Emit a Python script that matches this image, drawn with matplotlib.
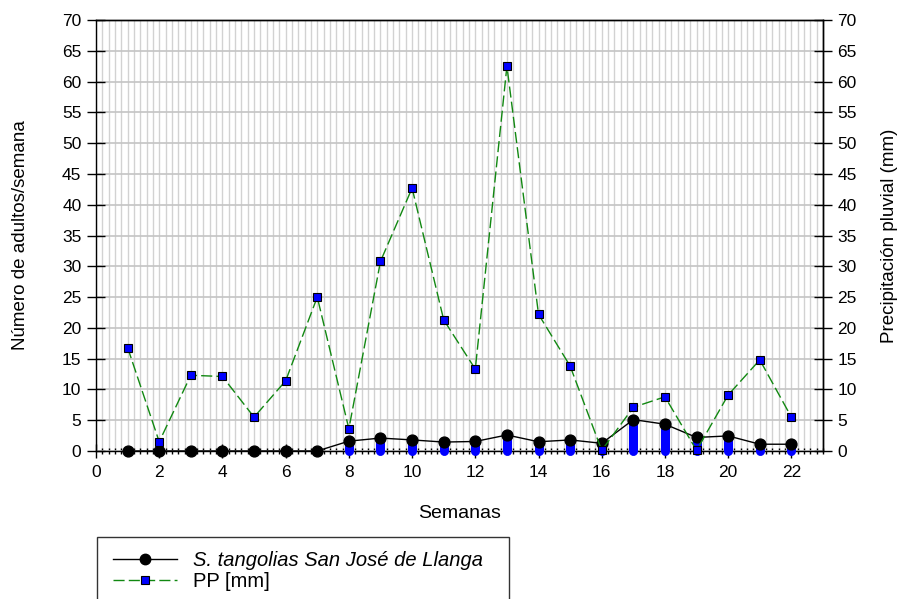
import matplotlib.pyplot as plt
import numpy as np
from matplotlib.ticker import MultipleLocator
from matplotlib.lines import Line2D
from matplotlib.patches import Rectangle

plt.rcParams['font.family'] = ['Liberation Sans', 'DejaVu Sans']

# weekly data
semanas = [1, 2, 3, 4, 5, 6, 7, 8, 9, 10, 11, 12, 13, 14, 15, 16, 17, 18, 19, 20, 21, 22]
adultos = [0, 0, 0, 0, 0, 0, 0, 1.6, 2.1, 1.8, 1.45, 1.55, 2.6, 1.5,
           1.8, 1.25, 5.1, 4.35, 2.2, 2.45, 1.1, 1.1]
pp_mm = [16.8, 1.5, 12.3, 12.1, 5.5, 11.4, 25.0, 3.6, 30.8, 42.7, 21.3, 13.3, 62.5,
         22.2, 13.8, 0.1, 7.1, 8.8, 0.1, 9.1, 14.8, 5.5]

W, H = 906, 599
fig = plt.figure(figsize=(W / 100, H / 100), dpi=100)
ax = fig.add_axes([96 / W, 1 - 451 / H, (823 - 96) / W, (451 - 20) / H])

ax.set_xlim(0, 23)
ax.set_ylim(0, 70)
ax.xaxis.set_major_locator(MultipleLocator(2))
ax.xaxis.set_minor_locator(MultipleLocator(0.2))
ax.yaxis.set_major_locator(MultipleLocator(5))

ax.grid(which='both', axis='x', color='#d2d2d2', lw=1.0, zorder=0)
ax.grid(which='major', axis='y', color='#c4c4c4', lw=1.2, zorder=0)
ax.set_axisbelow(True)

# bars under the adult counts
bars = ax.vlines(semanas, 0, adultos, colors='#0000ff', lw=6.5, zorder=3,
                 capstyle='round', clip_on=False)
ax.plot(semanas, adultos, color='black', lw=1.0, marker='o', ms=7.8,
        mfc='black', mec='black', zorder=4, clip_on=False)

ax2 = ax.twinx()
ax2.set_ylim(0, 70)
ax2.yaxis.set_major_locator(MultipleLocator(5))
ax2.plot(semanas, pp_mm, color='#118811', lw=1.0, dashes=(8, 3), marker='s',
         ms=5.5, mfc='#0000ff', mec='black', mew=0.8, zorder=5, clip_on=False)

for a in (ax, ax2):
    for s in a.spines.values():
        s.set_color('black')
        s.set_linewidth(1.0)
ax2.spines['bottom'].set_visible(False)
ax2.spines['left'].set_visible(False)

ax.tick_params(axis='x', which='major', direction='inout', length=10, width=1,
               labelsize=12.5, pad=5)
ax.tick_params(axis='x', which='minor', direction='inout', length=5, width=1)
ax.tick_params(axis='y', which='major', direction='inout', length=13, width=1,
               labelsize=12.5, pad=4)
ax2.tick_params(axis='y', which='major', direction='inout', length=13, width=1,
                labelsize=12.5, pad=4)

ax.set_xlabel('Semanas', fontsize=14, labelpad=18)
ax.set_ylabel('Número de adultos/semana', fontsize=13.5, labelpad=24)
ax2.set_ylabel('Precipitación pluvial (mm)', fontsize=13.5, labelpad=17)

# legend box below the chart
fig.patches.append(Rectangle((97 / W, 1 - 620 / H), (509 - 97) / W, (620 - 537) / H,
                             transform=fig.transFigure, fill=False,
                             edgecolor='#333333', lw=1.0))
handles = [
    Line2D([], [], color='black', lw=1.0, marker='o', ms=7.5),
    Line2D([], [], color='#118811', lw=1.0, dashes=(8, 3), marker='s', ms=5.5,
           mfc='#0000ff', mec='black', mew=0.8),
]
labels = ['S. tangolias San José de Llanga', 'PP [mm]']
leg = fig.legend(handles, labels, loc='upper left', bbox_to_anchor=(113 / W, 1 - 551 / H),
                 frameon=False, fontsize=14.5, handlelength=3.2, handletextpad=0.75,
                 labelspacing=0.12, borderpad=0, borderaxespad=0)
leg.get_texts()[0].set_fontstyle('italic')

fig.savefig('out.png', dpi=100)
